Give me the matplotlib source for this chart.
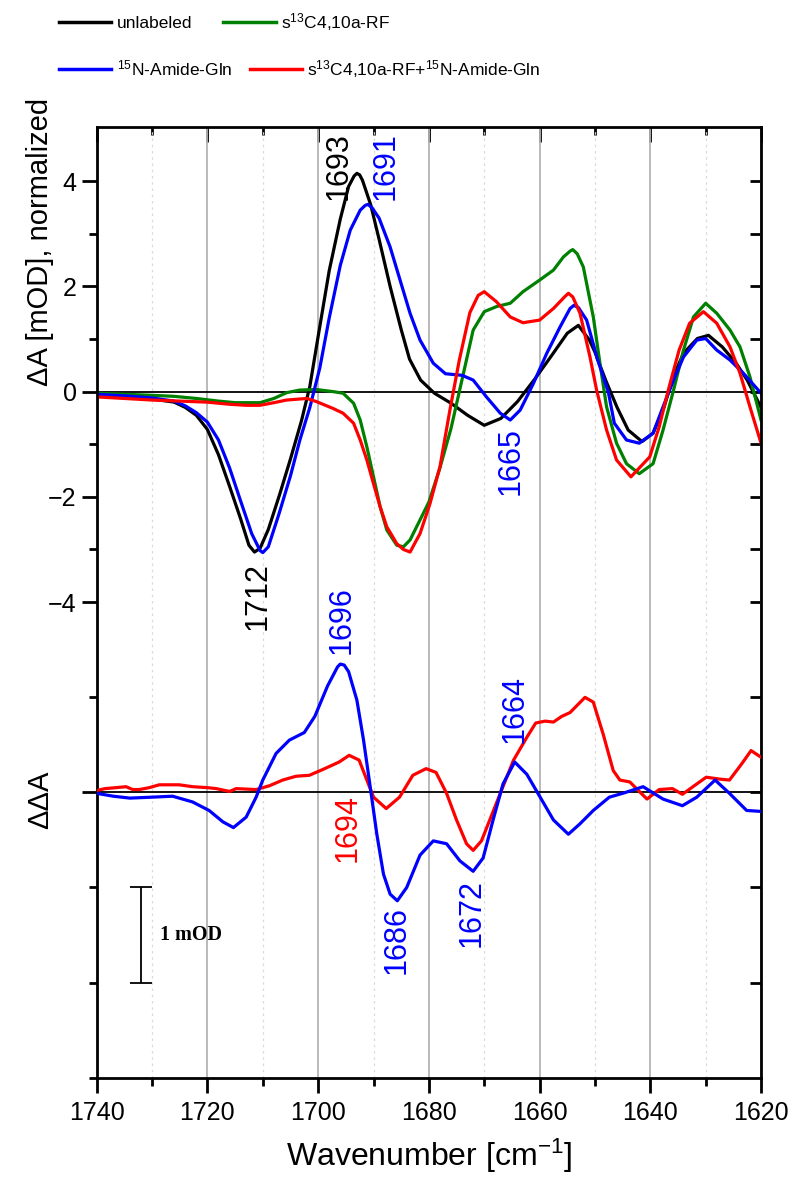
import numpy as np
import matplotlib.pyplot as plt
from matplotlib.ticker import FixedLocator, MultipleLocator, NullFormatter
from matplotlib.lines import Line2D

plt.rcParams['font.family'] = ['Liberation Sans', 'DejaVu Sans']
plt.rcParams['mathtext.default'] = 'regular'

# ---- top panel: normalized dA spectra (wavenumber, value)
wn_unl = [1740, 1735, 1730, 1726, 1724, 1722, 1720, 1718, 1716, 1714, 1712.5, 1711.5, 1710.5,
          1709, 1707, 1705, 1703, 1701.5, 1700, 1698, 1696, 1694.5, 1693.5, 1693, 1692.5, 1692,
          1690.5, 1689, 1687, 1685, 1683.5, 1681.5, 1679, 1676, 1673, 1670, 1667, 1664, 1661,
          1658, 1655, 1653, 1651, 1650, 1648, 1646, 1644, 1641.5, 1639.5, 1637.5, 1636, 1634,
          1631.5, 1629.5, 1627, 1624.5, 1622.5, 1620]
dA_unl = [-0.05, -0.09, -0.14, -0.2, -0.3, -0.45, -0.72, -1.2, -1.8, -2.42, -2.92, -3.05, -2.98,
          -2.62, -1.97, -1.28, -0.55, 0.1, 1.05, 2.3, 3.28, 3.9, 4.1, 4.15, 4.12, 4.02,
          3.55, 2.9, 2.0, 1.18, 0.62, 0.22, -0.03, -0.22, -0.45, -0.64, -0.51, -0.19, 0.22,
          0.66, 1.11, 1.26, 0.98, 0.75, 0.2, -0.3, -0.73, -0.95, -0.79, -0.29, 0.25, 0.73,
          1.01, 1.07, 0.85, 0.54, 0.22, -0.3]

wn_gln = [1740, 1735, 1730, 1726, 1724, 1722, 1720, 1718, 1716, 1714, 1712, 1710.5, 1710, 1709,
          1707, 1705, 1703.3, 1701.5, 1699.7, 1698, 1696, 1694.2, 1692.4, 1691.5, 1691, 1690.3,
          1689, 1687, 1685.2, 1683.4, 1681.6, 1679.2, 1677, 1674, 1672, 1669.6, 1667.1, 1665.3,
          1663.5, 1661.1, 1658.7, 1656.3, 1654.5, 1653.8, 1653, 1651.5, 1649.5, 1647.6, 1646.5,
          1644.3, 1642, 1639.5, 1637.7, 1635.8, 1634, 1631.6, 1630, 1628, 1625.6, 1623.2, 1620]
dA_gln = [-0.05, -0.08, -0.12, -0.18, -0.27, -0.4, -0.58, -0.92, -1.45, -2.08, -2.7, -3.02, -3.06, -2.95,
          -2.3, -1.6, -0.92, -0.3, 0.45, 1.4, 2.4, 3.07, 3.45, 3.54, 3.56, 3.5,
          3.3, 2.75, 2.12, 1.49, 0.98, 0.54, 0.34, 0.31, 0.22, -0.1, -0.41, -0.54,
          -0.35, 0.16, 0.73, 1.23, 1.58, 1.64, 1.6, 1.36, 0.6, 0.0, -0.6,
          -0.92, -0.98, -0.79, -0.29, 0.22, 0.66, 0.98, 1.01, 0.79, 0.6, 0.35, -0.03]

wn_rf = [1740, 1735, 1730, 1726, 1722, 1718, 1715, 1710.5, 1708, 1705.7, 1703.3, 1700.3, 1697.3,
         1695.5, 1693.6, 1692.4, 1691.2, 1690, 1688.8, 1687.6, 1685.8, 1684.6, 1683.4, 1681.6,
         1680, 1678, 1676, 1674.5, 1673, 1672, 1670, 1667.7, 1665.3, 1663, 1660, 1657.5,
         1655.7, 1654.5, 1654, 1653.2, 1652.1, 1650.3, 1649.1, 1647.9, 1646.1, 1644.3, 1642,
         1639.5, 1637.7, 1635.8, 1634, 1632.2, 1630, 1628, 1625.6, 1623.8, 1622, 1620]
dA_rf = [-0.03, -0.05, -0.07, -0.09, -0.13, -0.18, -0.21, -0.21, -0.13, -0.02, 0.03, 0.04, 0.0,
         -0.03, -0.22, -0.54, -1.05, -1.62, -2.19, -2.63, -2.92, -2.95, -2.82, -2.44,
         -2.1, -1.45, -0.7, 0.0, 0.7, 1.17, 1.52, 1.62, 1.68, 1.9, 2.12, 2.31,
         2.56, 2.67, 2.7, 2.62, 2.37, 1.42, 0.54, -0.29, -0.98, -1.37, -1.56,
         -1.37, -0.73, 0.03, 0.79, 1.42, 1.68, 1.49, 1.17, 0.85, 0.28, -0.54]

wn_both = [1740, 1735, 1730, 1725, 1720, 1716, 1713, 1710.5, 1708, 1705.7, 1703.3, 1702, 1700.3,
           1697.3, 1695.5, 1693.6, 1692.4, 1691.2, 1690, 1688.8, 1687.6, 1685.8, 1684.6, 1683.4,
           1681.6, 1679.8, 1678, 1676.2, 1674.5, 1672.6, 1671.1, 1670, 1667.8, 1665.3, 1663,
           1660, 1657.5, 1655.5, 1654.8, 1654, 1652.7, 1650.9, 1649.7, 1647.9, 1646.1, 1643.5,
           1640.1, 1638.4, 1636.6, 1634.8, 1632.9, 1630.4, 1628, 1625.6, 1623.8, 1622, 1620]
dA_both = [-0.1, -0.13, -0.16, -0.18, -0.2, -0.24, -0.26, -0.26, -0.21, -0.16, -0.14, -0.13, -0.19,
           -0.32, -0.41, -0.6, -0.92, -1.3, -1.75, -2.19, -2.57, -2.89, -3.0, -3.05,
           -2.7, -2.13, -1.43, -0.35, 0.6, 1.5, 1.83, 1.9, 1.71, 1.42, 1.31,
           1.36, 1.58, 1.8, 1.87, 1.8, 1.49, 0.66, 0.03, -0.73, -1.3, -1.62,
           -1.24, -0.67, 0.09, 0.79, 1.3, 1.52, 1.3, 0.85, 0.35, -0.29, -0.98]

# ---- bottom panel: double differences (mOD)
wn_dd_gln = [1740, 1737, 1734, 1730, 1726.3, 1722.7, 1719.7, 1717.2, 1715.3, 1713, 1711.2, 1710,
             1707.6, 1705.2, 1702.5, 1700.6, 1698.3, 1696.5, 1696, 1695.3, 1694.5, 1693, 1691.8,
             1690.6, 1689.4, 1688.2, 1687, 1685.7, 1684, 1681.6, 1679.2, 1676.8, 1674.4, 1672,
             1670.2, 1668.4, 1666.6, 1664.5, 1662.3, 1659.9, 1657.5, 1654.8, 1652.7, 1650.3,
             1647.4, 1645, 1641.3, 1637.7, 1634.2, 1631.6, 1628.3, 1625.7, 1622.6, 1620]
dd_gln = [-0.01, -0.04, -0.06, -0.05, -0.04, -0.1, -0.19, -0.31, -0.37, -0.26, -0.05, 0.13,
          0.41, 0.55, 0.63, 0.8, 1.12, 1.32, 1.35, 1.34, 1.27, 0.97, 0.55,
          0.06, -0.44, -0.86, -1.07, -1.14, -1.0, -0.66, -0.51, -0.54, -0.72, -0.83,
          -0.69, -0.29, 0.09, 0.32, 0.19, -0.05, -0.29, -0.44, -0.33, -0.19,
          -0.05, -0.01, 0.06, -0.07, -0.14, -0.05, 0.13, -0.01, -0.19, -0.2]

wn_dd_both = [1740, 1738.5, 1736.5, 1734.7, 1733.5, 1732.3, 1730.5, 1728.7, 1725.1, 1722.7, 1720,
              1718.4, 1716, 1714.8, 1711.2, 1708.8, 1706.4, 1704, 1701.6, 1699.2, 1696.2, 1694.4,
              1692.6, 1691.4, 1690, 1687.7, 1685.3, 1682.9, 1680.5, 1678.7, 1676.8, 1675, 1673.2,
              1672, 1670.5, 1669, 1667.1, 1664.7, 1662.3, 1660.7, 1659, 1657.5, 1656, 1654.5,
              1651.8, 1650.3, 1648.5, 1646.7, 1645.5, 1643.7, 1642.5, 1640.6, 1638.4, 1636,
              1634.2, 1632.3, 1629.9, 1627.5, 1625.7, 1623.5, 1621.8, 1620]
dd_both = [0.02, 0.04, 0.05, 0.06, 0.03, 0.03, 0.05, 0.08, 0.08, 0.06, 0.05,
           0.04, 0.01, 0.04, 0.03, 0.07, 0.13, 0.17, 0.18, 0.24, 0.32, 0.39,
           0.34, 0.16, -0.05, -0.17, -0.05, 0.18, 0.25, 0.21, -0.01, -0.29, -0.54,
           -0.61, -0.51, -0.29, -0.01, 0.34, 0.58, 0.73, 0.75, 0.74, 0.8, 0.84,
           1.0, 0.95, 0.61, 0.23, 0.13, 0.11, 0.04, -0.07, 0.03, 0.04,
           -0.02, 0.06, 0.16, 0.14, 0.13, 0.3, 0.44, 0.37]

labels = ['unlabeled', 's$^{13}$C4,10a-RF', '$^{15}$N-Amide-Gln',
          's$^{13}$C4,10a-RF+$^{15}$N-Amide-Gln']
colors = ['black', '#008000', '#0000ff', '#ff0000']

# peak labels: (text, wavenumber, y, color, vertical anchor)
top_peaks = [('1693', 1696.3, 3.64, 'black', 'bottom'),
             ('1691', 1687.8, 3.64, '#0000ff', 'bottom'),
             ('1665', 1665.3, -0.67, '#0000ff', 'top'),
             ('1712', 1711.0, -3.24, 'black', 'top')]
dd_peaks = [('1696', 1695.7, 1.46, '#0000ff', 'bottom'),
            ('1694', 1694.6, -0.02, '#ff0000', 'top'),
            ('1686', 1685.8, -1.2, '#0000ff', 'top'),
            ('1672', 1672.2, -0.91, '#0000ff', 'top'),
            ('1664', 1664.5, 0.52, '#0000ff', 'bottom')]

# 1 mOD scale bar
bar_x = 1732.0
bar_y = -1.5
bar_half = 0.5

fig = plt.figure(figsize=(7.92, 11.84), dpi=100)
rect = [0.1221, 0.0899, 0.8388, 0.8028]
ax = fig.add_axes(rect)
ax2 = fig.add_axes(rect, sharex=ax)
ax2.patch.set_visible(False)

ax.set_xlim(1740, 1620)
ax.set_ylim(-13.04, 5.03)
ax2.set_ylim(-3.0, 7.0)

# grid lines
ax.xaxis.set_major_locator(MultipleLocator(20))
ax.xaxis.set_minor_locator(MultipleLocator(10))
ax.grid(which='major', axis='x', color='#b4b4b4', lw=1.3)
ax.grid(which='minor', axis='x', color='#dadada', lw=0.9, ls=(0, (2, 3)))
ax.set_axisbelow(True)

ax.axhline(0, color='black', lw=1.3)
ax2.axhline(0, color='black', lw=1.3)

for wn, y, c in [(wn_unl, dA_unl, colors[0]), (wn_rf, dA_rf, colors[1]),
                 (wn_gln, dA_gln, colors[2]), (wn_both, dA_both, colors[3])]:
    ax.plot(wn, y, color=c, lw=2.3, solid_joinstyle='round')

ax2.plot(wn_dd_both, dd_both, color=colors[3], lw=2.3, solid_joinstyle='round')
ax2.plot(wn_dd_gln, dd_gln, color=colors[2], lw=2.3, solid_joinstyle='round')

for t, x, y, c, va in top_peaks:
    ax.text(x, y, t, color=c, rotation=90, ha='center', va=va, fontsize=22)
for t, x, y, c, va in dd_peaks:
    ax2.text(x, y, t, color=c, rotation=90, ha='center', va=va, fontsize=22)

ax2.errorbar([bar_x], [bar_y], yerr=[bar_half], color='black', lw=1.3,
             capsize=7.8, capthick=1.3)
ax2.text(bar_x - 3.4, bar_y, '1 mOD', family='Liberation Serif', weight='bold',
         fontsize=14.5, ha='left', va='center')

# ticks / spines
for s in ax.spines.values():
    s.set_linewidth(2)
for s in ax2.spines.values():
    s.set_visible(False)

ax.yaxis.set_major_locator(FixedLocator([-4, -2, 0, 2, 4]))
ax.yaxis.set_minor_locator(FixedLocator([-3, -1, 1, 3]))
ax.tick_params(axis='both', which='major', direction='out', length=11, width=2,
               labelsize=18, top=False, right=False)
ax.tick_params(axis='both', which='minor', direction='out', length=6, width=2,
               top=False, right=False)
ax.tick_params(axis='x', which='major', pad=6)

ax2.yaxis.set_major_locator(FixedLocator([0]))
ax2.yaxis.set_minor_locator(FixedLocator([-3, -2, -1, 1]))
ax2.yaxis.set_major_formatter(NullFormatter())
ax2.tick_params(axis='y', which='major', direction='out', length=11, width=2)
ax2.tick_params(axis='y', which='minor', direction='out', length=6, width=2)
ax2.tick_params(axis='x', which='both', bottom=False, labelbottom=False)

top = ax.secondary_xaxis('top')
top.xaxis.set_major_locator(MultipleLocator(20))
top.xaxis.set_minor_locator(MultipleLocator(10))
top.tick_params(which='major', direction='in', length=11, width=2, labeltop=False)
top.tick_params(which='minor', direction='in', length=6, width=2)
top.spines['top'].set_visible(False)

right = ax.secondary_yaxis('right')
right.yaxis.set_major_locator(FixedLocator([-4, -2, 0, 2, 4]))
right.yaxis.set_minor_locator(FixedLocator([-3, -1, 1, 3]))
right.tick_params(which='both', direction='in', length=8, width=2, labelright=False)
right.spines['right'].set_visible(False)

right2 = ax2.secondary_yaxis('right')
right2.yaxis.set_major_locator(FixedLocator([0]))
right2.yaxis.set_minor_locator(FixedLocator([-2, -1, 1]))
right2.tick_params(which='both', direction='in', length=8, width=2, labelright=False)
right2.spines['right'].set_visible(False)

ax.set_xlabel('Wavenumber [cm$^{-1}$]', fontsize=23, labelpad=8)
fig.text(0.051, 1 - 242 / 1184, 'ΔA [mOD], normalized', rotation=90,
         ha='center', va='center', fontsize=21)
fig.text(0.051, 1 - 800 / 1184, 'ΔΔA', rotation=90, ha='center', va='center', fontsize=21)

# legend in two rows
h = [Line2D([], [], color=c, lw=2.5) for c in colors]
fig.legend(h[:2], labels[:2], ncol=2, loc='upper left', bbox_to_anchor=(0.075, 0.991),
           frameon=False, fontsize=12.5, handlelength=3.0, handletextpad=0.3,
           columnspacing=1.8, borderpad=0, borderaxespad=0)
fig.legend(h[2:], labels[2:], ncol=2, loc='upper left', bbox_to_anchor=(0.075, 0.951),
           frameon=False, fontsize=12.5, handlelength=3.0, handletextpad=0.3,
           columnspacing=1.0, borderpad=0, borderaxespad=0)

fig.savefig('out.png', dpi=100)
